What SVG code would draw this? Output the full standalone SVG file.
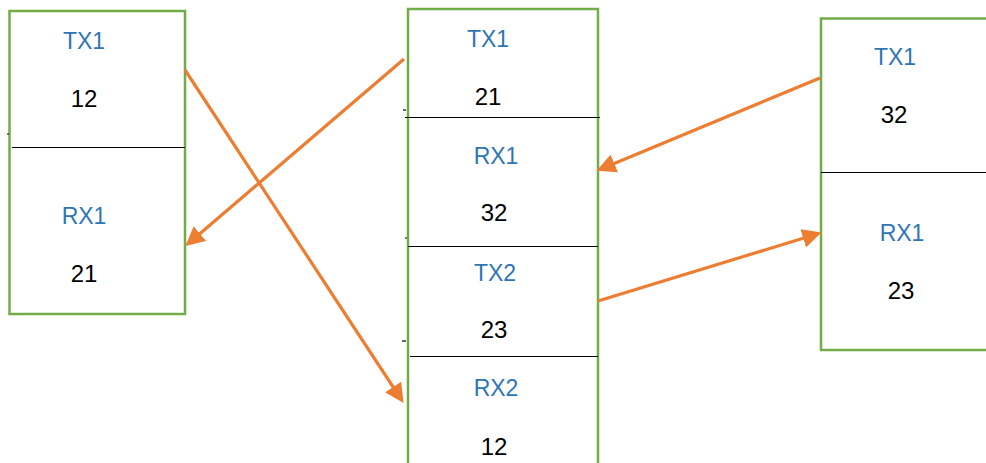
<svg xmlns="http://www.w3.org/2000/svg" width="986" height="463" viewBox="0 0 986 463">
<defs>
<marker id="ah" markerWidth="6" markerHeight="6" refX="4.5" refY="3" orient="auto" markerUnits="strokeWidth">
<path d="M0,0 L6,3 L0,6 Z" fill="#ED7D31"/>
</marker>
<style>
.box{fill:#fff;stroke:#70AD47;stroke-width:2.5}
.div{stroke:#000;stroke-width:1}
.lbl{font-family:"Liberation Sans",Arial,sans-serif;font-size:23px;fill:#2E75B6;text-anchor:middle}
.num{font-family:"Liberation Sans",Arial,sans-serif;font-size:24px;fill:#000;text-anchor:middle}
.arr{stroke:#ED7D31;stroke-width:3.2;fill:none;marker-end:url(#ah)}
.tick{stroke:#000;stroke-width:1.2}
</style>
</defs>
<rect width="986" height="463" fill="#fff"/>
<g id="left">
<rect class="box" x="9.5" y="11" width="175.5" height="303"/>
<line class="div" x1="12" y1="147.5" x2="185" y2="147.5"/>
<line class="tick" x1="7" y1="134" x2="9" y2="134"/>
<text class="lbl" x="84" y="49">TX1</text>
<text class="num" x="84" y="107">12</text>
<text class="lbl" x="84" y="224">RX1</text>
<text class="num" x="84" y="282">21</text>
</g>
<g id="middle">
<rect class="box" x="408" y="9" width="190" height="470"/>
<line class="div" x1="405" y1="117.5" x2="600" y2="117.5"/>
<line class="div" x1="408" y1="246.5" x2="598" y2="246.5"/>
<line class="div" x1="410" y1="356.5" x2="598" y2="356.5"/>
<line class="tick" x1="403" y1="110" x2="406" y2="110"/>
<line class="tick" x1="405" y1="238" x2="407" y2="238"/>
<line class="tick" x1="402" y1="341" x2="406" y2="341"/>
<text class="lbl" x="488" y="47">TX1</text>
<text class="num" x="488" y="105">21</text>
<text class="lbl" x="496" y="164">RX1</text>
<text class="num" x="494" y="221">32</text>
<text class="lbl" x="495" y="281">TX2</text>
<text class="num" x="494" y="338">23</text>
<text class="lbl" x="496" y="396">RX2</text>
<text class="num" x="494" y="455">12</text>
</g>
<g id="right">
<rect class="box" x="821" y="18.5" width="180" height="331.5"/>
<line class="div" x1="821" y1="172.5" x2="986" y2="172.5"/>
<text class="lbl" x="895" y="65">TX1</text>
<text class="num" x="894" y="123">32</text>
<text class="lbl" x="902" y="241">RX1</text>
<text class="num" x="901" y="299">23</text>
</g>
<g id="connectors">
<line class="arr" x1="185" y1="70" x2="401" y2="399"/>
<line class="arr" x1="404" y1="59" x2="189" y2="243"/>
<line class="arr" x1="820" y1="78" x2="601" y2="169"/>
<line class="arr" x1="598" y1="301" x2="817" y2="234"/>
</g>
</svg>
